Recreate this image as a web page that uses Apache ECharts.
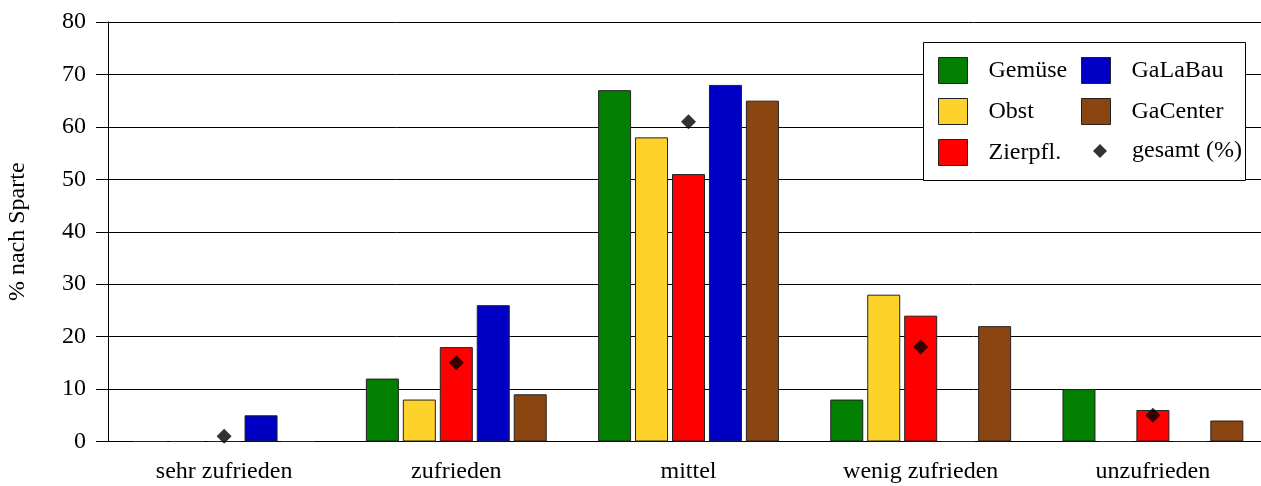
<!DOCTYPE html>
<html>
<head>
<meta charset="utf-8">
<script src="https://cdn.jsdelivr.net/npm/echarts@6/dist/echarts.min.js"></script>
<style>html,body{margin:0;padding:0;background:#fff;}#c{width:1261px;height:486px;}</style>
</head>
<body>
<div id="c"></div>
<script>
const categories = ['sehr zufrieden', 'zufrieden', 'mittel', 'wenig zufrieden', 'unzufrieden'];
const gemuese  = [0, 12, 67, 8, 10];
const obst     = [0, 8, 58, 28, 0];
const zierpfl  = [0, 18, 51, 24, 6];
const galabau  = [5, 26, 68, 0, 0];
const gacenter = [0, 9, 65, 22, 4];
const gesamt   = [1, 15, 61, 18, 5];
const yTicks = [0, 10, 20, 30, 40, 50, 60, 70, 80];

const FONT = 'Liberation Serif';
const FS = 24;
const colors = {
  'Gemüse': '#007F00',
  'Obst': '#FCD22B',
  'Zierpfl.': '#FF0000',
  'GaLaBau': '#0000C4',
  'GaCenter': '#8B4510'
};
function bar(name, data) {
  return {
    name: name, type: 'bar', data: data,
    barWidth: 33, barGap: '12%',
    itemStyle: { color: colors[name], borderColor: '#222', borderWidth: 1 },
    z: 2
  };
}
const chart = echarts.init(document.getElementById('c'), null, { renderer: 'canvas' });
const legendText = { fontFamily: FONT, fontSize: FS, color: '#000', padding: [0, 0, 0, 16] };
chart.setOption({
  animation: false,
  backgroundColor: '#fff',
  textStyle: { fontFamily: FONT },
  grid: { left: 108, top: 22, right: -8, bottom: 44.5, containLabel: false, outerBoundsMode: 'none' },
  xAxis: {
    type: 'category', data: categories,
    axisLine: { lineStyle: { color: '#000', width: 1 } },
    axisTick: { alignWithLabel: true, length: 12, lineStyle: { color: '#000' } },
    axisLabel: { fontFamily: FONT, fontSize: FS, color: '#000', margin: 18 },
    splitLine: { show: false }
  },
  yAxis: {
    type: 'value', min: yTicks[0], max: yTicks[yTicks.length - 1], interval: 10,
    name: '% nach Sparte', nameLocation: 'middle', nameRotate: 90, nameGap: 78,
    nameTextStyle: { fontFamily: FONT, fontSize: FS, color: '#000' },
    axisLine: { show: true, lineStyle: { color: '#000', width: 1 } },
    axisTick: { show: true, length: 12, lineStyle: { color: '#000' } },
    axisLabel: { fontFamily: FONT, fontSize: FS, color: '#000', margin: 22 },
    splitLine: { show: true, lineStyle: { color: '#000', width: 1 } }
  },
  legend: [
    { data: [{ name: 'Gemüse', icon: 'rect' }, { name: 'Obst', icon: 'rect' }, { name: 'Zierpfl.', icon: 'rect' }],
      orient: 'vertical', left: 938, top: 57, padding: 0,
      itemWidth: 29, itemHeight: 26, itemGap: 14, textStyle: legendText, z: 20,
      itemStyle: { borderColor: '#222', borderWidth: 1 } },
    { data: [{ name: 'GaLaBau', icon: 'rect' }, { name: 'GaCenter', icon: 'rect' }],
      orient: 'vertical', left: 1081, top: 57, padding: 0,
      itemWidth: 29, itemHeight: 26, itemGap: 14, textStyle: legendText, z: 20,
      itemStyle: { borderColor: '#222', borderWidth: 1 } },
    { data: [{ name: 'gesamt (%)', icon: 'diamond' }], orient: 'vertical', left: 1093, top: 139, padding: 0,
      itemWidth: 14, itemHeight: 14, textStyle: Object.assign({}, legendText, { padding: [0, 0, 0, 20] }), z: 20 }
  ],
  graphic: [{
    type: 'rect', shape: { x: 923.5, y: 42.5, width: 322, height: 138 },
    style: { fill: '#fff', stroke: '#000', lineWidth: 1 }, z: 10
  }],
  series: [
    bar('Gemüse', gemuese),
    bar('Obst', obst),
    bar('Zierpfl.', zierpfl),
    bar('GaLaBau', galabau),
    bar('GaCenter', gacenter),
    {
      name: 'gesamt (%)', type: 'scatter', data: gesamt,
      symbol: 'diamond', symbolSize: 15,
      itemStyle: { color: '#000' }, z: 5
    }
  ]
});
</script>
</body>
</html>
